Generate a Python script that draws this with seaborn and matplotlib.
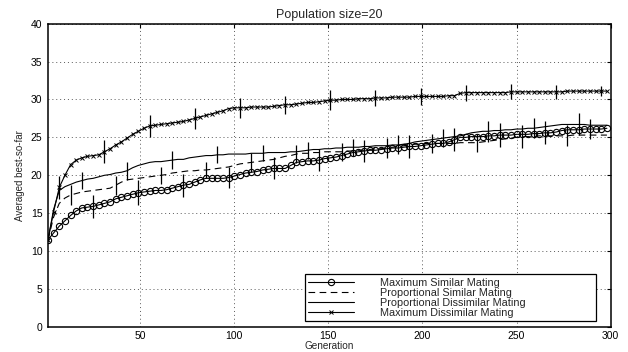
import numpy as np
import pandas as pd
import matplotlib as mpl; mpl.use("Agg")
import matplotlib.pyplot as plt
import seaborn as sns

# Generaciones (cada 3) y valores
generation = list(range(1, 299, 3))

max_similar = [
    11.5, 12.4, 13.3, 14.0, 14.7, 15.3, 15.7, 15.8, 15.9, 16.1,
    16.3, 16.5, 16.9, 17.1, 17.3, 17.5, 17.7, 17.8, 17.9, 18.0,
    18.0, 18.1, 18.3, 18.5, 18.7, 18.8, 19.1, 19.4, 19.6, 19.6,
    19.6, 19.6, 19.7, 19.9, 20.1, 20.3, 20.4, 20.5, 20.7, 20.8,
    20.9, 20.9, 20.9, 21.3, 21.7, 21.8, 21.9, 21.9, 22.0, 22.2,
    22.3, 22.4, 22.6, 22.8, 23.0, 23.1, 23.2, 23.3, 23.3, 23.4,
    23.5, 23.6, 23.6, 23.7, 23.8, 23.8, 23.9, 24.0, 24.1, 24.2,
    24.2, 24.4, 24.7, 25.0, 25.0, 25.1, 25.1, 25.1, 25.2, 25.2,
    25.3, 25.3, 25.3, 25.4, 25.4, 25.4, 25.5, 25.5, 25.6, 25.6,
    25.7, 25.9, 26.0, 26.0, 26.0, 26.1, 26.1, 26.1, 26.1, 26.2,
]
prop_similar = [
    11.5, 14.5, 16.3, 17.0, 17.4, 17.6, 17.8, 17.9, 18.0, 18.1,
    18.2, 18.3, 18.7, 19.1, 19.4, 19.5, 19.6, 19.7, 19.8, 19.9,
    20.0, 20.1, 20.3, 20.4, 20.5, 20.6, 20.6, 20.7, 20.7, 20.8,
    20.9, 21.0, 21.1, 21.3, 21.5, 21.6, 21.7, 21.8, 21.9, 22.0,
    22.1, 22.3, 22.5, 22.6, 22.8, 22.9, 22.9, 23.0, 23.0, 23.1,
    23.1, 23.1, 23.1, 23.2, 23.2, 23.3, 23.3, 23.4, 23.5, 23.5,
    23.6, 23.7, 23.8, 23.9, 24.0, 24.1, 24.1, 24.2, 24.2, 24.2,
    24.2, 24.2, 24.2, 24.3, 24.3, 24.3, 24.3, 24.4, 24.5, 24.6,
    24.7, 24.8, 24.9, 25.0, 25.1, 25.1, 25.1, 25.2, 25.2, 25.2,
    25.2, 25.2, 25.2, 25.3, 25.3, 25.3, 25.3, 25.3, 25.3, 25.3,
]
prop_dissimilar = [
    11.5, 15.5, 18.0, 18.5, 18.8, 19.1, 19.3, 19.5, 19.6, 19.8,
    20.0, 20.1, 20.3, 20.4, 20.6, 21.0, 21.3, 21.5, 21.7, 21.8,
    21.8, 21.9, 22.0, 22.1, 22.1, 22.3, 22.4, 22.5, 22.6, 22.6,
    22.7, 22.7, 22.8, 22.8, 22.8, 22.8, 22.9, 22.9, 22.9, 23.0,
    23.0, 23.0, 23.0, 23.1, 23.1, 23.2, 23.3, 23.4, 23.4, 23.5,
    23.5, 23.6, 23.6, 23.7, 23.7, 23.7, 23.8, 23.8, 23.9, 23.9,
    23.9, 24.0, 24.0, 24.1, 24.2, 24.4, 24.5, 24.6, 24.7, 24.8,
    24.9, 25.0, 25.1, 25.2, 25.4, 25.6, 25.7, 25.8, 25.8, 25.9,
    25.9, 26.0, 26.0, 26.1, 26.1, 26.2, 26.2, 26.3, 26.4, 26.5,
    26.6, 26.7, 26.7, 26.7, 26.7, 26.7, 26.6, 26.6, 26.6, 26.6,
]
max_dissimilar = [
    11.5, 15.2, 18.4, 20.0, 21.4, 22.0, 22.3, 22.5, 22.6, 22.7,
    23.1, 23.5, 24.0, 24.4, 24.9, 25.4, 25.8, 26.2, 26.5, 26.6,
    26.7, 26.8, 26.9, 27.0, 27.1, 27.3, 27.5, 27.7, 27.9, 28.1,
    28.3, 28.5, 28.8, 28.9, 28.9, 28.9, 29.0, 29.0, 29.0, 29.0,
    29.1, 29.2, 29.3, 29.3, 29.4, 29.5, 29.6, 29.6, 29.7, 29.8,
    29.9, 29.9, 30.0, 30.0, 30.0, 30.1, 30.1, 30.1, 30.2, 30.2,
    30.2, 30.3, 30.3, 30.3, 30.3, 30.4, 30.4, 30.4, 30.4, 30.4,
    30.4, 30.5, 30.5, 30.8, 30.9, 30.9, 30.9, 30.9, 30.9, 30.9,
    30.9, 30.9, 31.0, 31.0, 31.0, 31.0, 31.0, 31.0, 31.0, 31.0,
    31.0, 31.0, 31.1, 31.1, 31.1, 31.1, 31.1, 31.1, 31.1, 31.1,
]

# Barras de error: generacion y semiamplitud
err_gen_ms = [1, 25, 49, 73, 97, 121, 145, 169, 193, 217, 241, 265, 289]
err_half_ms = [0.1, 1.55, 1.65, 1.5, 1.4, 1.45, 1.45, 1.4, 1.5, 1.55, 1.6, 1.5, 1.35]
err_gen_ps = [13, 37, 61, 85, 109, 133, 157, 181, 205, 229, 253, 277]
err_half_ps = [1.3, 1.25, 1.15, 1.1, 1.2, 1.2, 1.2, 1.3, 1.3, 1.2, 1.5, 1.4]
err_gen_pd = [19, 43, 67, 91, 115, 139, 163, 187, 211, 235, 259, 283]
err_half_pd = [1.1, 1.2, 1.2, 1.1, 1.05, 1.15, 1.1, 1.25, 1.2, 1.35, 1.3, 1.45]
err_gen_md = [7, 31, 55, 79, 103, 127, 151, 175, 199, 223, 247, 271, 295]
err_half_md = [1.5, 1.5, 1.45, 1.4, 1.3, 1.2, 1.3, 1.1, 1.1, 1.05, 1.0, 0.9, 0.65]

labels = ["Maximum Similar Mating", "Proportional Similar Mating",
          "Proportional Dissimilar Mating", "Maximum Dissimilar Mating"]

sns.set_style("white")
plt.rcParams['font.family'] = ['Liberation Sans', 'DejaVu Sans']

fig = plt.figure(figsize=(6.28, 3.52), dpi=100)
ax = fig.add_axes([0.0764, 0.071, 0.896, 0.862])

df = pd.DataFrame({"gen": generation, "ms": max_similar, "ps": prop_similar,
                   "pd": prop_dissimilar, "md": max_dissimilar})

sns.lineplot(data=df, x="gen", y="ms", ax=ax, color="black", lw=0.8,
             marker="o", markersize=4.5, markerfacecolor="none",
             markeredgecolor="black", markeredgewidth=0.8, label=labels[0])
sns.lineplot(data=df, x="gen", y="ps", ax=ax, color="black", lw=0.8,
             linestyle=(0, (6, 4)), label=labels[1])
sns.lineplot(data=df, x="gen", y="pd", ax=ax, color="black", lw=0.8,
             label=labels[2])
sns.lineplot(data=df, x="gen", y="md", ax=ax, color="black", lw=0.8,
             marker="x", markersize=2.5, markeredgecolor="black",
             markeredgewidth=0.7, label=labels[3])

# barras de error verticales sin tope
series = [("ms", err_gen_ms, err_half_ms), ("ps", err_gen_ps, err_half_ps),
          ("pd", err_gen_pd, err_half_pd), ("md", err_gen_md, err_half_md)]
for col, g, h in series:
    centre = df.set_index("gen").loc[g, col].values
    ax.vlines(g, centre - np.array(h), centre + np.array(h),
              color="black", lw=0.9)

ax.set_xlim(1, 300)
ax.set_ylim(0, 40)
ax.set_xticks([50, 100, 150, 200, 250, 300])
ax.set_yticks(range(0, 41, 5))
ax.grid(True, linestyle=(0, (1, 3)), color="0.35", lw=0.7)
ax.tick_params(direction="in", length=3, labelsize=7.5, top=True, right=True,
               width=0.8, colors="black")
ax.tick_params(axis="x", pad=3)
ax.tick_params(axis="y", pad=4)
for s in ax.spines.values():
    s.set_color("black")
    s.set_linewidth(1.1)

ax.set_title("Population size=20", fontsize=9, pad=4)
ax.set_xlabel("Generation", fontsize=7.2, labelpad=0)
ax.set_ylabel("Averaged best-so-far", fontsize=7, labelpad=4)

leg = ax.legend(loc="lower left", bbox_to_anchor=(0.457, 0.02, 0.517, 0.15),
                mode="expand", fontsize=7.8, frameon=True, fancybox=False,
                edgecolor="black", framealpha=1, handlelength=4.2,
                handletextpad=2.4, labelspacing=0.0, borderpad=0.3,
                borderaxespad=0)
leg.get_frame().set_linewidth(0.9)

fig.savefig("out.png", dpi=100)
